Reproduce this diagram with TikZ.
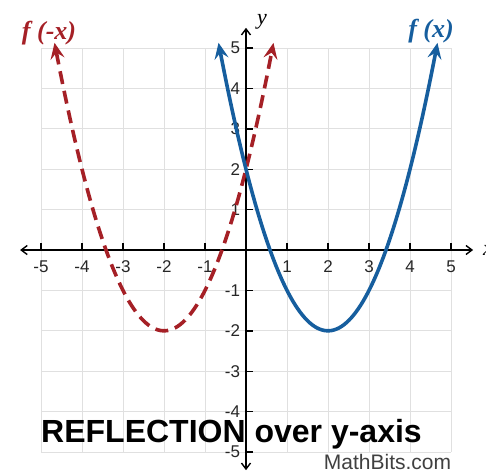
\documentclass[tikz,border=0pt]{standalone}
\usepackage{fontspec}
\setmainfont{Liberation Serif}
\setsansfont{Liberation Sans}
\usetikzlibrary{arrows.meta}
\definecolor{cred}{RGB}{165,32,38}
\definecolor{cblue}{RGB}{22,94,158}
\definecolor{cgrid}{RGB}{224,224,224}
\begin{document}
\begin{tikzpicture}[x=1pt,y=-1pt,
  gridline/.style={cgrid, line width=0.8pt},
  axisline/.style={black, line width=1.6pt, arrows={Straight Barb[length=6pt,width=9pt,line width=1.4pt]-Straight Barb[length=6pt,width=9pt,line width=1.4pt]}},
  tickmark/.style={black, line width=1.4pt},
  ticklabel/.style={font=\sffamily\fontsize{17}{17}\selectfont, text=black!85, inner sep=0pt},
  curvetip/.style={arrows={Stealth[length=16pt,width=14pt,inset=6pt]-Stealth[length=16pt,width=14pt,inset=6pt]}},
  funclabel/.style={font=\bfseries\itshape\fontsize{26}{26}\selectfont, inner sep=0pt}]
\useasboundingbox (0,0) rectangle (486,474);
\begin{scope}[shift={(246,250)}, x=41pt, y=40.4pt]
  \foreach \i in {-5,...,5} {
    \draw[gridline] (\i,-5) -- (\i,5);
    \draw[gridline] (-5,\i) -- (5,\i);
  }
  \coordinate (xl) at (-5.51,0);
  \coordinate (xr) at (5.54,0);
  \coordinate (yb) at (0,-5.45);
  \coordinate (yt) at (0,5.5);
  \draw[axisline] (xl) -- (xr);
  \draw[axisline] (yb) -- (yt);
  \foreach \i in {-5,...,-1,1,2,3,4,5} {
    \draw[tickmark] (\i,0) -- (\i,0.17);
    \draw[tickmark] (0,\i) -- (0.17,\i);
    \node[ticklabel] at (\i,-0.42) {\i};
    \node[ticklabel, anchor=east] at (-0.14,\i) {\i};
  }
  \draw[cred, line width=3.6pt, dash pattern=on 13pt off 7pt, curvetip]
    plot[domain=-4.67:0.67, samples=90, smooth] (\x, {(\x+2)^2-2});
  \draw[cblue, line width=3.6pt, curvetip]
    plot[domain=-0.67:4.67, samples=90, smooth] (\x, {(\x-2)^2-2});
\end{scope}
\node[font=\itshape\fontsize{22}{22}\selectfont, inner sep=0pt] (ylab) at (262,22) {y};
\node[font=\itshape\fontsize{22}{22}\selectfont, inner sep=0pt] (xlab) at (488,250) {x};
\node[funclabel, text=cred] (fmx) at (49,33) {f (-x)};
\node[funclabel, text=cblue] (fx) at (431,31) {f (x)};
\node[font=\sffamily\bfseries\fontsize{32}{32}\selectfont, anchor=base, inner sep=0pt] (title) at (231.5,442) {REFLECTION over y-axis};
\node[font=\sffamily\fontsize{21}{21}\selectfont, anchor=base, inner sep=0pt, text=black!75] (mb) at (387.5,469) {MathBits.com};
\end{tikzpicture}
\end{document}
